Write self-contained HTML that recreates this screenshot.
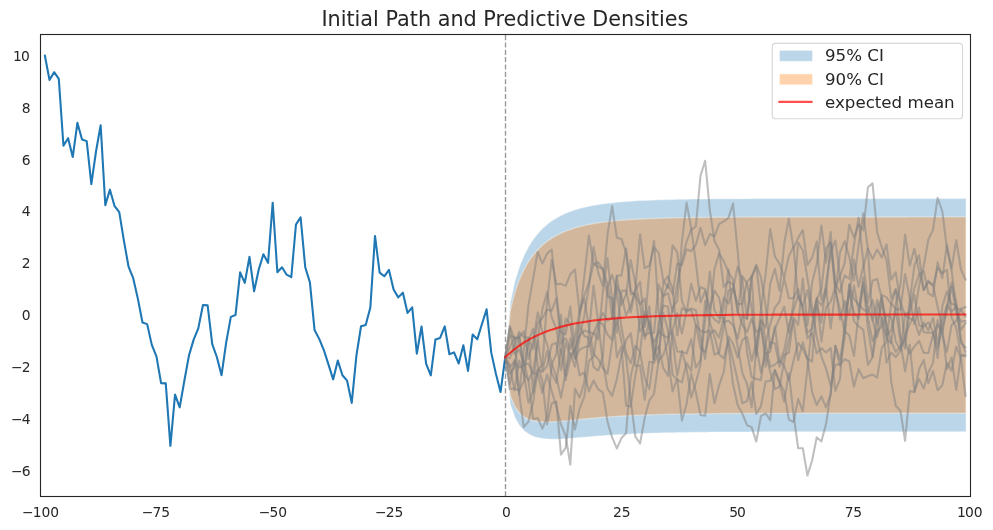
<!DOCTYPE html>
<html><head><meta charset="utf-8"><title>Initial Path and Predictive Densities</title>
<style>
html,body{margin:0;padding:0;background:#fff;}
body{width:993px;height:530px;overflow:hidden;}
svg{display:block;}
text{font-family:"DejaVu Sans","Liberation Sans",sans-serif;fill:#262626;}
.tk{font-size:13.89px;}
.lg{font-size:16.67px;}
</style></head><body>
<svg width="993" height="530" viewBox="0 0 993 530">
<rect x="0" y="0" width="993" height="530" fill="#ffffff"/>
<defs><clipPath id="ax"><rect x="40.5" y="34.5" width="930.0" height="462.0"/></clipPath></defs>
<g clip-path="url(#ax)">
<polygon points="505.70,357.54 510.35,302.46 515.00,281.09 519.65,266.21 524.30,254.93 528.95,246.04 533.60,238.87 538.25,232.98 542.90,228.11 547.55,224.03 552.20,220.60 556.85,217.69 561.50,215.21 566.15,213.10 570.80,211.28 575.45,209.71 580.10,208.36 584.75,207.19 589.40,206.17 594.05,205.28 598.70,204.50 603.35,203.82 608.00,203.22 612.65,202.70 617.30,202.23 621.95,201.82 626.60,201.46 631.25,201.14 635.90,200.86 640.55,200.61 645.20,200.38 649.85,200.18 654.50,200.00 659.15,199.84 663.80,199.70 668.45,199.58 673.10,199.46 677.75,199.36 682.40,199.27 687.05,199.19 691.70,199.12 696.35,199.05 701.00,198.99 705.65,198.94 710.30,198.89 714.95,198.85 719.60,198.81 724.25,198.78 728.90,198.75 733.55,198.72 738.20,198.70 742.85,198.67 747.50,198.65 752.15,198.64 756.80,198.62 761.45,198.61 766.10,198.59 770.75,198.58 775.40,198.57 780.05,198.56 784.70,198.55 789.35,198.55 794.00,198.54 798.65,198.53 803.30,198.53 807.95,198.52 812.60,198.52 817.25,198.51 821.90,198.51 826.55,198.51 831.20,198.50 835.85,198.50 840.50,198.50 845.15,198.50 849.80,198.49 854.45,198.49 859.10,198.49 863.75,198.49 868.40,198.49 873.05,198.49 877.70,198.49 882.35,198.48 887.00,198.48 891.65,198.48 896.30,198.48 900.95,198.48 905.60,198.48 910.25,198.48 914.90,198.48 919.55,198.48 924.20,198.48 928.85,198.48 933.50,198.48 938.15,198.48 942.80,198.48 947.45,198.48 952.10,198.48 956.75,198.48 961.40,198.48 966.05,198.48 966.05,431.70 961.40,431.70 956.75,431.71 952.10,431.71 947.45,431.71 942.80,431.71 938.15,431.71 933.50,431.71 928.85,431.71 924.20,431.71 919.55,431.71 914.90,431.71 910.25,431.71 905.60,431.71 900.95,431.71 896.30,431.71 891.65,431.71 887.00,431.71 882.35,431.71 877.70,431.71 873.05,431.71 868.40,431.71 863.75,431.72 859.10,431.72 854.45,431.72 849.80,431.72 845.15,431.72 840.50,431.73 835.85,431.73 831.20,431.73 826.55,431.73 821.90,431.74 817.25,431.74 812.60,431.74 807.95,431.75 803.30,431.75 798.65,431.76 794.00,431.77 789.35,431.77 784.70,431.78 780.05,431.79 775.40,431.80 770.75,431.81 766.10,431.82 761.45,431.83 756.80,431.85 752.15,431.86 747.50,431.88 742.85,431.90 738.20,431.92 733.55,431.94 728.90,431.97 724.25,432.00 719.60,432.03 714.95,432.07 710.30,432.11 705.65,432.15 701.00,432.20 696.35,432.26 691.70,432.32 687.05,432.38 682.40,432.46 677.75,432.54 673.10,432.63 668.45,432.73 663.80,432.84 659.15,432.96 654.50,433.09 649.85,433.24 645.20,433.40 640.55,433.57 635.90,433.77 631.25,433.97 626.60,434.20 621.95,434.45 617.30,434.72 612.65,435.01 608.00,435.32 603.35,435.65 598.70,436.00 594.05,436.37 589.40,436.75 584.75,437.15 580.10,437.55 575.45,437.94 570.80,438.32 566.15,438.66 561.50,438.94 556.85,439.13 552.20,439.19 547.55,439.04 542.90,438.62 538.25,437.80 533.60,436.43 528.95,434.27 524.30,430.94 519.65,425.86 515.00,417.86 510.35,404.12 505.70,357.54" fill="#1f77b4" fill-opacity="0.3" stroke="#fff" stroke-opacity="0.3" stroke-width="1.39" stroke-linejoin="miter"/>
<polygon points="505.70,357.54 510.35,310.50 515.00,291.90 519.65,278.84 524.30,268.85 528.95,260.93 533.60,254.49 538.25,249.18 542.90,244.75 547.55,241.03 552.20,237.88 556.85,235.20 561.50,232.91 566.15,230.93 570.80,229.23 575.45,227.76 580.10,226.49 584.75,225.37 589.40,224.40 594.05,223.55 598.70,222.81 603.35,222.15 608.00,221.58 612.65,221.07 617.30,220.62 621.95,220.22 626.60,219.87 631.25,219.55 635.90,219.28 640.55,219.03 645.20,218.81 649.85,218.61 654.50,218.44 659.15,218.28 663.80,218.14 668.45,218.01 673.10,217.90 677.75,217.80 682.40,217.71 687.05,217.63 691.70,217.56 696.35,217.49 701.00,217.44 705.65,217.38 710.30,217.34 714.95,217.29 719.60,217.26 724.25,217.22 728.90,217.19 733.55,217.17 738.20,217.14 742.85,217.12 747.50,217.10 752.15,217.08 756.80,217.06 761.45,217.05 766.10,217.04 770.75,217.03 775.40,217.01 780.05,217.01 784.70,217.00 789.35,216.99 794.00,216.98 798.65,216.98 803.30,216.97 807.95,216.97 812.60,216.96 817.25,216.96 821.90,216.95 826.55,216.95 831.20,216.95 835.85,216.94 840.50,216.94 845.15,216.94 849.80,216.94 854.45,216.94 859.10,216.93 863.75,216.93 868.40,216.93 873.05,216.93 877.70,216.93 882.35,216.93 887.00,216.93 891.65,216.93 896.30,216.93 900.95,216.93 905.60,216.93 910.25,216.92 914.90,216.92 919.55,216.92 924.20,216.92 928.85,216.92 933.50,216.92 938.15,216.92 942.80,216.92 947.45,216.92 952.10,216.92 956.75,216.92 961.40,216.92 966.05,216.92 966.05,413.26 961.40,413.26 956.75,413.26 952.10,413.26 947.45,413.26 942.80,413.26 938.15,413.26 933.50,413.26 928.85,413.26 924.20,413.26 919.55,413.26 914.90,413.26 910.25,413.26 905.60,413.26 900.95,413.26 896.30,413.27 891.65,413.27 887.00,413.27 882.35,413.27 877.70,413.27 873.05,413.27 868.40,413.27 863.75,413.27 859.10,413.27 854.45,413.28 849.80,413.28 845.15,413.28 840.50,413.28 835.85,413.28 831.20,413.29 826.55,413.29 821.90,413.29 817.25,413.30 812.60,413.30 807.95,413.30 803.30,413.31 798.65,413.32 794.00,413.32 789.35,413.33 784.70,413.34 780.05,413.34 775.40,413.35 770.75,413.36 766.10,413.38 761.45,413.39 756.80,413.40 752.15,413.42 747.50,413.44 742.85,413.46 738.20,413.48 733.55,413.50 728.90,413.53 724.25,413.56 719.60,413.59 714.95,413.63 710.30,413.67 705.65,413.71 701.00,413.76 696.35,413.82 691.70,413.88 687.05,413.94 682.40,414.02 677.75,414.10 673.10,414.19 668.45,414.29 663.80,414.40 659.15,414.52 654.50,414.66 649.85,414.81 645.20,414.97 640.55,415.15 635.90,415.35 631.25,415.56 626.60,415.80 621.95,416.05 617.30,416.33 612.65,416.64 608.00,416.96 603.35,417.31 598.70,417.69 594.05,418.09 589.40,418.52 584.75,418.96 580.10,419.42 575.45,419.90 570.80,420.37 566.15,420.82 561.50,421.25 556.85,421.62 552.20,421.90 547.55,422.04 542.90,421.97 538.25,421.60 533.60,420.81 528.95,419.38 524.30,417.03 519.65,413.23 515.00,407.04 510.35,396.08 505.70,357.54" fill="#ff7f0e" fill-opacity="0.35" stroke="#fff" stroke-opacity="0.35" stroke-width="1.39" stroke-linejoin="miter"/>
<polyline points="44.85,55.50 49.50,79.87 54.15,72.17 58.80,78.90 63.45,145.79 68.10,138.18 72.75,157.02 77.40,122.85 82.05,139.47 86.70,141.11 91.35,184.13 96.00,151.52 100.65,125.25 105.30,205.15 109.95,189.67 114.60,206.20 119.25,212.12 123.90,240.57 128.55,266.70 133.20,278.16 137.85,298.64 142.50,322.52 147.15,324.11 151.80,344.88 156.45,356.33 161.10,383.16 165.75,383.37 170.40,445.81 175.05,394.59 179.70,407.34 184.35,380.77 189.00,355.35 193.65,339.62 198.30,328.39 202.95,305.02 207.60,305.19 212.25,344.16 216.90,357.24 221.55,375.19 226.20,342.35 230.85,316.87 235.50,315.08 240.15,272.32 244.80,282.83 249.45,256.83 254.10,291.25 258.75,269.57 263.40,254.22 268.05,262.85 272.70,202.69 277.35,272.22 282.00,267.23 286.65,274.69 291.30,277.16 295.95,224.58 300.60,217.27 305.25,267.26 309.90,282.38 314.55,329.94 319.20,338.87 323.85,350.05 328.50,364.66 333.15,379.38 337.80,360.58 342.45,375.28 347.10,380.67 351.75,402.90 356.40,355.61 361.05,326.22 365.70,325.02 370.35,307.55 375.00,235.98 379.65,272.63 384.30,276.26 388.95,269.92 393.60,289.47 398.25,297.36 402.90,292.66 407.55,312.92 412.20,307.34 416.85,353.69 421.50,326.50 426.15,363.95 430.80,375.38 435.45,339.44 440.10,337.91 444.75,326.40 449.40,354.27 454.05,352.35 458.70,363.52 463.35,345.24 468.00,370.87 472.65,334.59 477.30,339.30 481.95,323.95 486.60,309.36 491.25,352.64 495.90,373.66 500.55,392.04 505.20,357.29" fill="none" stroke="#1f77b4" stroke-width="2.08" stroke-linejoin="round" stroke-linecap="round"/>
<line x1="505.5" x2="505.5" y1="496.5" y2="34.5" stroke="#000" stroke-opacity="0.4" stroke-width="1.39" stroke-dasharray="5.14,2.22"/>
<polyline points="505.20,357.29 509.85,327.68 514.50,353.97 519.15,349.79 523.80,362.47 528.45,380.44 533.10,371.32 537.75,340.54 542.40,370.62 547.05,351.14 551.70,373.57 556.35,382.77 561.00,349.51 565.65,380.31 570.30,359.14 574.95,350.13 579.60,335.69 584.25,330.52 588.90,332.08 593.55,285.62 598.20,321.89 602.85,324.23 607.50,334.52 612.15,339.97 616.80,285.70 621.45,295.68 626.10,315.39 630.75,305.68 635.40,289.87 640.05,281.71 644.70,327.18 649.35,306.27 654.00,359.58 658.65,323.09 663.30,305.53 667.95,306.85 672.60,340.27 677.25,375.66 681.90,351.06 686.55,368.13 691.20,397.54 695.85,382.77 700.50,364.46 705.15,300.88 709.80,322.68 714.45,336.53 719.10,354.34 723.75,358.39 728.40,340.31 733.05,359.98 737.70,380.84 742.35,403.28 747.00,401.19 751.65,381.85 756.30,414.07 760.95,406.15 765.60,381.59 770.25,380.98 774.90,370.02 779.55,381.65 784.20,391.74 788.85,419.69 793.50,422.01 798.15,398.89 802.80,411.38 807.45,368.43 812.10,324.06 816.75,297.86 821.40,341.71 826.05,307.38 830.70,301.68 835.35,286.22 840.00,319.68 844.65,300.94 849.30,314.89 853.95,285.49 858.60,310.91 863.25,282.26 867.90,328.44 872.55,357.02 877.20,329.12 881.85,294.85 886.50,297.43 891.15,303.76 895.80,308.56 900.45,309.82 905.10,274.04 909.75,297.95 914.40,324.05 919.05,307.61 923.70,332.22 928.35,332.82 933.00,332.65 937.65,348.66 942.30,328.14 946.95,369.07 951.60,357.53 956.25,390.03 960.90,355.78 965.55,356.23" fill="none" stroke="#808080" stroke-opacity="0.5" stroke-width="2.08" stroke-linejoin="round" stroke-linecap="round"/>
<polyline points="505.20,357.29 509.85,326.04 514.50,338.91 519.15,337.73 523.80,331.17 528.45,358.83 533.10,342.29 537.75,312.34 542.40,332.19 547.05,343.97 551.70,363.07 556.35,377.28 561.00,397.76 565.65,372.27 570.30,353.37 574.95,366.64 579.60,336.74 584.25,315.90 588.90,286.20 593.55,247.00 598.20,272.71 602.85,286.11 607.50,234.36 612.15,206.02 616.80,237.72 621.45,238.89 626.10,252.83 630.75,294.33 635.40,293.64 640.05,331.45 644.70,324.05 649.35,271.34 654.00,240.73 658.65,311.66 663.30,332.12 667.95,359.42 672.60,391.38 677.25,378.67 681.90,420.62 686.55,404.19 691.20,373.64 695.85,392.21 700.50,415.09 705.15,415.63 709.80,373.93 714.45,403.26 719.10,385.32 723.75,371.96 728.40,336.41 733.05,343.79 737.70,357.58 742.35,340.03 747.00,336.80 751.65,361.00 756.30,342.47 760.95,320.59 765.60,327.60 770.25,283.42 774.90,268.76 779.55,290.91 784.20,243.77 788.85,218.55 793.50,248.20 798.15,237.87 802.80,230.11 807.45,264.88 812.10,257.48 816.75,241.59 821.40,300.00 826.05,288.19 830.70,328.38 835.35,291.01 840.00,309.59 844.65,331.49 849.30,335.30 853.95,356.04 858.60,313.73 863.25,277.21 867.90,317.79 872.55,341.31 877.20,331.78 881.85,326.28 886.50,315.28 891.15,317.30 895.80,341.52 900.45,350.05 905.10,335.38 909.75,323.84 914.40,315.77 919.05,285.73 923.70,265.95 928.35,239.53 933.00,229.78 937.65,197.89 942.30,211.23 946.95,248.68 951.60,270.01 956.25,308.42 960.90,309.70 965.55,316.67" fill="none" stroke="#808080" stroke-opacity="0.5" stroke-width="2.08" stroke-linejoin="round" stroke-linecap="round"/>
<polyline points="505.20,357.29 509.85,367.23 514.50,361.29 519.15,367.40 523.80,366.35 528.45,341.15 533.10,328.67 537.75,365.40 542.40,381.15 547.05,424.38 551.70,403.35 556.35,401.68 561.00,454.59 565.65,447.89 570.30,406.11 574.95,429.49 579.60,408.55 584.25,396.94 588.90,360.88 593.55,356.80 598.20,324.55 602.85,312.84 607.50,320.58 612.15,317.92 616.80,275.66 621.45,275.56 626.10,248.18 630.75,290.59 635.40,295.70 640.05,304.21 644.70,298.48 649.35,330.69 654.00,342.40 658.65,333.00 663.30,282.29 667.95,276.44 672.60,288.72 677.25,335.55 681.90,308.18 686.55,310.50 691.20,308.44 695.85,310.23 700.50,337.57 705.15,358.97 709.80,317.72 714.45,268.93 719.10,253.24 723.75,261.01 728.40,272.04 733.05,279.82 737.70,313.18 742.35,276.12 747.00,283.76 751.65,307.93 756.30,354.09 760.95,309.48 765.60,274.23 770.25,228.94 774.90,256.66 779.55,263.51 784.20,277.80 788.85,255.95 793.50,246.86 798.15,297.55 802.80,306.52 807.45,333.07 812.10,328.53 816.75,304.97 821.40,322.62 826.05,283.62 830.70,252.45 835.35,240.50 840.00,276.75 844.65,312.64 849.30,296.15 853.95,259.75 858.60,286.81 863.25,266.85 867.90,248.45 872.55,320.52 877.20,337.24 881.85,317.75 886.50,362.69 891.15,352.52 895.80,357.11 900.45,350.85 905.10,313.86 909.75,312.55 914.40,294.86 919.05,325.38 923.70,326.71 928.35,322.36 933.00,331.37 937.65,358.05 942.30,306.37 946.95,291.35 951.60,304.04 956.25,304.78 960.90,343.00 965.55,347.50" fill="none" stroke="#808080" stroke-opacity="0.5" stroke-width="2.08" stroke-linejoin="round" stroke-linecap="round"/>
<polyline points="505.20,357.29 509.85,365.44 514.50,390.41 519.15,360.61 523.80,372.81 528.45,402.70 533.10,391.37 537.75,369.73 542.40,371.75 547.05,366.19 551.70,344.69 556.35,342.65 561.00,370.14 565.65,342.78 570.30,355.43 574.95,349.27 579.60,375.28 584.25,372.26 588.90,391.37 593.55,380.49 598.20,389.30 602.85,392.26 607.50,421.67 612.15,437.40 616.80,448.46 621.45,438.09 626.10,432.93 630.75,375.74 635.40,356.64 640.05,317.45 644.70,335.90 649.35,332.69 654.00,332.78 658.65,284.41 663.30,296.37 667.95,284.43 672.60,294.15 677.25,263.70 681.90,264.82 686.55,249.35 691.20,251.22 695.85,244.80 700.50,227.73 705.15,245.20 709.80,234.03 714.45,236.41 719.10,224.16 723.75,221.44 728.40,218.14 733.05,203.53 737.70,251.29 742.35,306.66 747.00,351.73 751.65,377.25 756.30,378.97 760.95,379.97 765.60,343.61 770.25,324.21 774.90,307.64 779.55,301.57 784.20,278.16 788.85,298.28 793.50,298.15 798.15,288.87 802.80,311.41 807.45,338.52 812.10,332.72 816.75,353.43 821.40,348.11 826.05,352.44 830.70,347.96 835.35,390.82 840.00,379.19 844.65,320.54 849.30,290.70 853.95,312.62 858.60,318.77 863.25,286.11 867.90,307.56 872.55,320.75 877.20,299.86 881.85,319.49 886.50,338.82 891.15,343.43 895.80,303.39 900.45,284.59 905.10,234.49 909.75,265.72 914.40,248.63 919.05,271.38 923.70,290.20 928.35,280.62 933.00,285.40 937.65,267.90 942.30,273.14 946.95,269.78 951.60,317.79 956.25,327.86 960.90,355.26 965.55,354.57" fill="none" stroke="#808080" stroke-opacity="0.5" stroke-width="2.08" stroke-linejoin="round" stroke-linecap="round"/>
<polyline points="505.20,357.29 509.85,336.01 514.50,337.20 519.15,394.51 523.80,350.37 528.45,305.12 533.10,278.77 537.75,251.93 542.40,263.58 547.05,253.63 551.70,249.61 556.35,293.89 561.00,332.64 565.65,334.47 570.30,306.52 574.95,348.83 579.60,318.07 584.25,276.51 588.90,235.45 593.55,263.77 598.20,266.86 602.85,269.00 607.50,283.96 612.15,316.75 616.80,276.58 621.45,305.19 626.10,294.43 630.75,260.14 635.40,283.40 640.05,304.48 644.70,338.91 649.35,321.25 654.00,346.51 658.65,362.41 663.30,296.16 667.95,293.01 672.60,312.03 677.25,284.16 681.90,261.22 686.55,241.55 691.20,229.90 695.85,226.22 700.50,175.81 705.15,160.76 709.80,209.91 714.45,240.92 719.10,249.79 723.75,286.84 728.40,281.68 733.05,284.12 737.70,310.57 742.35,324.48 747.00,332.37 751.65,318.96 756.30,332.09 760.95,328.27 765.60,353.64 770.25,351.61 774.90,326.48 779.55,361.87 784.20,350.39 788.85,325.02 793.50,310.19 798.15,295.21 802.80,305.81 807.45,289.95 812.10,316.66 816.75,299.44 821.40,305.38 826.05,293.66 830.70,243.60 835.35,283.55 840.00,292.41 844.65,275.27 849.30,278.95 853.95,244.72 858.60,217.77 863.25,261.60 867.90,302.82 872.55,280.78 877.20,279.02 881.85,298.66 886.50,335.57 891.15,330.28 895.80,309.76 900.45,342.45 905.10,371.11 909.75,344.57 914.40,391.38 919.05,378.98 923.70,388.60 928.35,372.55 933.00,362.90 937.65,319.95 942.30,335.36 946.95,351.94 951.60,324.93 956.25,320.85 960.90,309.04 965.55,307.05" fill="none" stroke="#808080" stroke-opacity="0.5" stroke-width="2.08" stroke-linejoin="round" stroke-linecap="round"/>
<polyline points="505.20,357.29 509.85,358.19 514.50,345.38 519.15,331.85 523.80,337.09 528.45,337.66 533.10,349.22 537.75,322.85 542.40,318.25 547.05,309.55 551.70,310.81 556.35,298.07 561.00,343.70 565.65,338.21 570.30,348.86 574.95,336.22 579.60,311.10 584.25,298.28 588.90,327.05 593.55,353.73 598.20,359.14 602.85,367.97 607.50,373.82 612.15,342.01 616.80,318.18 621.45,341.73 626.10,357.37 630.75,400.44 635.40,436.78 640.05,443.45 644.70,417.99 649.35,400.49 654.00,393.98 658.65,360.30 663.30,354.97 667.95,340.99 672.60,307.50 677.25,300.93 681.90,241.77 686.55,202.57 691.20,228.19 695.85,262.50 700.50,302.26 705.15,290.80 709.80,312.97 714.45,319.39 719.10,322.87 723.75,307.09 728.40,269.42 733.05,319.60 737.70,347.02 742.35,372.94 747.00,383.98 751.65,407.26 756.30,346.20 760.95,372.56 765.60,353.13 770.25,372.04 774.90,388.97 779.55,386.79 784.20,361.54 788.85,339.33 793.50,319.42 798.15,360.30 802.80,342.22 807.45,359.65 812.10,391.86 816.75,405.11 821.40,396.34 826.05,407.51 830.70,394.06 835.35,345.58 840.00,359.61 844.65,331.80 849.30,284.03 853.95,321.09 858.60,326.26 863.25,329.66 867.90,364.98 872.55,356.95 877.20,308.15 881.85,297.37 886.50,323.44 891.15,381.23 895.80,405.73 900.45,410.76 905.10,440.84 909.75,391.02 914.40,392.20 919.05,369.43 923.70,360.01 928.35,383.05 933.00,371.09 937.65,390.22 942.30,385.26 946.95,362.97 951.60,370.68 956.25,346.45 960.90,358.41 965.55,396.23" fill="none" stroke="#808080" stroke-opacity="0.5" stroke-width="2.08" stroke-linejoin="round" stroke-linecap="round"/>
<polyline points="505.20,357.29 509.85,384.16 514.50,360.11 519.15,393.31 523.80,427.09 528.45,421.57 533.10,402.20 537.75,369.74 542.40,365.05 547.05,302.06 551.70,259.73 556.35,284.29 561.00,283.91 565.65,285.87 570.30,274.41 574.95,269.56 579.60,312.93 584.25,295.34 588.90,283.09 593.55,264.23 598.20,262.32 602.85,269.19 607.50,296.24 612.15,298.26 616.80,332.73 621.45,290.86 626.10,290.55 630.75,312.50 635.40,288.44 640.05,234.18 644.70,268.35 649.35,265.37 654.00,247.26 658.65,252.82 663.30,280.33 667.95,288.22 672.60,245.30 677.25,252.13 681.90,300.97 686.55,312.56 691.20,283.67 695.85,300.79 700.50,287.19 705.15,289.00 709.80,308.56 714.45,290.42 719.10,297.79 723.75,321.95 728.40,320.69 733.05,325.20 737.70,338.79 742.35,315.68 747.00,318.97 751.65,277.75 756.30,266.42 760.95,306.41 765.60,343.93 770.25,366.70 774.90,364.74 779.55,360.44 784.20,365.64 788.85,380.41 793.50,360.70 798.15,342.96 802.80,349.04 807.45,358.71 812.10,361.62 816.75,300.01 821.40,289.12 826.05,248.04 830.70,242.03 835.35,293.09 840.00,252.20 844.65,241.28 849.30,256.89 853.95,280.59 858.60,245.37 863.25,213.23 867.90,249.02 872.55,259.02 877.20,249.46 881.85,257.53 886.50,244.34 891.15,279.69 895.80,272.10 900.45,302.33 905.10,342.17 909.75,353.75 914.40,346.61 919.05,340.93 923.70,352.98 928.35,352.97 933.00,334.65 937.65,324.66 942.30,332.89 946.95,305.29 951.60,311.72 956.25,306.49 960.90,339.59 965.55,351.79" fill="none" stroke="#808080" stroke-opacity="0.5" stroke-width="2.08" stroke-linejoin="round" stroke-linecap="round"/>
<polyline points="505.20,357.29 509.85,347.13 514.50,338.07 519.15,336.91 523.80,373.46 528.45,380.35 533.10,418.90 537.75,418.00 542.40,428.59 547.05,416.83 551.70,364.28 556.35,353.55 561.00,314.53 565.65,375.14 570.30,337.98 574.95,358.69 579.60,349.53 584.25,347.32 588.90,346.22 593.55,332.40 598.20,339.49 602.85,291.76 607.50,258.04 612.15,300.52 616.80,357.26 621.45,346.48 626.10,405.52 630.75,406.46 635.40,374.92 640.05,351.87 644.70,311.82 649.35,322.09 654.00,358.63 658.65,330.65 663.30,335.42 667.95,337.94 672.60,329.82 677.25,313.27 681.90,333.60 686.55,310.80 691.20,310.10 695.85,324.39 700.50,348.19 705.15,351.91 709.80,333.84 714.45,330.16 719.10,337.58 723.75,317.78 728.40,344.83 733.05,384.26 737.70,405.13 742.35,413.53 747.00,425.17 751.65,427.13 756.30,441.63 760.95,416.13 765.60,413.35 770.25,420.18 774.90,370.28 779.55,383.42 784.20,401.63 788.85,373.03 793.50,414.07 798.15,448.14 802.80,448.23 807.45,475.50 812.10,460.54 816.75,437.25 821.40,441.50 826.05,423.83 830.70,393.61 835.35,346.11 840.00,365.91 844.65,338.83 849.30,285.08 853.95,298.74 858.60,304.55 863.25,309.29 867.90,312.29 872.55,299.87 877.20,323.68 881.85,302.47 886.50,325.07 891.15,341.41 895.80,352.24 900.45,346.19 905.10,339.47 909.75,301.20 914.40,265.29 919.05,255.29 923.70,289.87 928.35,282.10 933.00,285.48 937.65,306.69 942.30,328.78 946.95,310.96 951.60,286.49 956.25,312.36 960.90,321.80 965.55,320.84" fill="none" stroke="#808080" stroke-opacity="0.5" stroke-width="2.08" stroke-linejoin="round" stroke-linecap="round"/>
<polyline points="505.20,357.29 509.85,373.63 514.50,367.47 519.15,334.57 523.80,364.62 528.45,363.58 533.10,373.22 537.75,373.45 542.40,392.69 547.05,374.62 551.70,390.99 556.35,406.57 561.00,424.62 565.65,435.83 570.30,464.58 574.95,388.60 579.60,397.77 584.25,382.67 588.90,331.60 593.55,333.85 598.20,321.54 602.85,362.65 607.50,388.51 612.15,395.89 616.80,379.30 621.45,354.34 626.10,340.12 630.75,333.16 635.40,366.19 640.05,365.33 644.70,399.72 649.35,361.70 654.00,362.83 658.65,352.63 663.30,313.09 667.95,330.56 672.60,374.84 677.25,379.82 681.90,382.38 686.55,362.92 691.20,370.87 695.85,324.77 700.50,330.94 705.15,332.23 709.80,330.26 714.45,354.73 719.10,352.35 723.75,326.23 728.40,290.95 733.05,288.55 737.70,304.11 742.35,304.03 747.00,281.84 751.65,276.98 756.30,264.60 760.95,277.35 765.60,305.83 770.25,347.81 774.90,328.81 779.55,318.20 784.20,306.68 788.85,333.03 793.50,302.23 798.15,242.54 802.80,250.28 807.45,278.22 812.10,307.08 816.75,337.07 821.40,356.36 826.05,368.56 830.70,386.06 835.35,364.83 840.00,364.10 844.65,359.26 849.30,361.55 853.95,386.62 858.60,369.17 863.25,378.29 867.90,376.10 872.55,374.69 877.20,377.58 881.85,347.64 886.50,341.87 891.15,303.66 895.80,289.92 900.45,302.47 905.10,315.20 909.75,318.29 914.40,320.49 919.05,334.94 923.70,322.33 928.35,330.40 933.00,317.71 937.65,343.47 942.30,320.04 946.95,305.75 951.60,282.23 956.25,303.04 960.90,329.97 965.55,323.10" fill="none" stroke="#808080" stroke-opacity="0.5" stroke-width="2.08" stroke-linejoin="round" stroke-linecap="round"/>
<polyline points="505.20,357.29 509.85,389.01 514.50,388.40 519.15,390.62 523.80,381.58 528.45,337.87 533.10,392.16 537.75,338.29 542.40,309.04 547.05,292.26 551.70,317.40 556.35,328.64 561.00,354.24 565.65,318.48 570.30,324.10 574.95,358.37 579.60,324.81 584.25,336.07 588.90,337.64 593.55,366.86 598.20,370.69 602.85,356.00 607.50,287.01 612.15,274.71 616.80,291.05 621.45,327.28 626.10,352.77 630.75,363.40 635.40,345.65 640.05,351.84 644.70,378.20 649.35,389.12 654.00,353.84 658.65,346.11 663.30,367.91 667.95,375.98 672.60,331.57 677.25,351.42 681.90,351.86 686.55,353.56 691.20,339.34 695.85,367.62 700.50,360.33 705.15,319.82 709.80,271.57 714.45,310.49 719.10,318.03 723.75,297.63 728.40,303.57 733.05,288.94 737.70,266.55 742.35,279.51 747.00,318.63 751.65,275.63 756.30,356.48 760.95,320.13 765.60,366.75 770.25,342.03 774.90,343.32 779.55,366.77 784.20,354.76 788.85,352.58 793.50,317.62 798.15,324.94 802.80,278.65 807.45,325.24 812.10,282.59 816.75,263.98 821.40,225.54 826.05,262.51 830.70,232.14 835.35,287.69 840.00,276.19 844.65,263.22 849.30,224.72 853.95,237.77 858.60,224.29 863.25,230.42 867.90,187.32 872.55,183.37 877.20,232.51 881.85,247.56 886.50,260.13 891.15,298.71 895.80,288.85 900.45,336.12 905.10,348.63 909.75,306.52 914.40,288.27 919.05,274.61 923.70,271.08 928.35,293.30 933.00,296.14 937.65,262.23 942.30,278.10 946.95,245.24 951.60,268.38 956.25,240.24 960.90,269.28 965.55,279.79" fill="none" stroke="#808080" stroke-opacity="0.5" stroke-width="2.08" stroke-linejoin="round" stroke-linecap="round"/>
<polyline points="505.20,357.29 509.85,353.04 514.50,349.22 519.15,345.78 523.80,342.69 528.45,339.90 533.10,337.40 537.75,335.14 542.40,333.11 547.05,331.28 551.70,329.64 556.35,328.16 561.00,326.83 565.65,325.63 570.30,324.55 574.95,323.58 579.60,322.71 584.25,321.92 588.90,321.21 593.55,320.57 598.20,320.00 602.85,319.48 607.50,319.02 612.15,318.60 616.80,318.23 621.45,317.89 626.10,317.58 630.75,317.31 635.40,317.06 640.05,316.84 644.70,316.64 649.35,316.46 654.00,316.30 658.65,316.15 663.30,316.02 667.95,315.90 672.60,315.78 677.25,315.66 681.90,315.56 686.55,315.47 691.20,315.38 695.85,315.30 700.50,315.22 705.15,315.15 709.80,315.09 714.45,315.03 719.10,314.98 723.75,314.92 728.40,314.88 733.05,314.83 737.70,314.79 742.35,314.77 747.00,314.75 751.65,314.73 756.30,314.71 760.95,314.70 765.60,314.69 770.25,314.67 774.90,314.66 779.55,314.65 784.20,314.65 788.85,314.64 793.50,314.63 798.15,314.63 802.80,314.62 807.45,314.62 812.10,314.61 816.75,314.61 821.40,314.60 826.05,314.60 830.70,314.60 835.35,314.59 840.00,314.59 844.65,314.59 849.30,314.59 853.95,314.59 858.60,314.58 863.25,314.58 867.90,314.58 872.55,314.58 877.20,314.58 881.85,314.58 886.50,314.58 891.15,314.58 895.80,314.58 900.45,314.58 905.10,314.57 909.75,314.57 914.40,314.57 919.05,314.57 923.70,314.57 928.35,314.57 933.00,314.57 937.65,314.57 942.30,314.57 946.95,314.57 951.60,314.57 956.25,314.57 960.90,314.57 965.55,314.57" fill="none" stroke="#ff0000" stroke-opacity="0.7" stroke-width="2.08" stroke-linejoin="round" stroke-linecap="round"/>
</g>
<rect x="40.5" y="34.5" width="930.0" height="462.0" fill="none" stroke="#262626" stroke-width="1.11"/>
<text x="504.85" y="25.6" text-anchor="middle" font-size="20.77">Initial Path and Predictive Densities</text>
<text class="tk" x="40.50" y="517" text-anchor="middle">−<tspan dx="-0.9">100</tspan></text>
<text class="tk" x="141.74" y="517">−<tspan dx="-0.9">7</tspan><tspan dx="-0.1">5</tspan></text>
<text class="tk" x="273.00" y="517" text-anchor="middle">−<tspan dx="-0.9">50</tspan></text>
<text class="tk" x="389.25" y="517" text-anchor="middle">−<tspan dx="-0.9">25</tspan></text>
<text class="tk" x="506.40" y="517" text-anchor="middle">0</text>
<text class="tk" x="621.75" y="517" text-anchor="middle">25</text>
<text class="tk" x="729.16" y="517">5<tspan dx="-0.9">0</tspan></text>
<text class="tk" x="844.86" y="517">7<tspan dx="-0.55">5</tspan></text>
<text class="tk" x="956.89" y="517">1<tspan dx="-0.75">0</tspan>0</text>
<text class="tk" x="30.55" y="475.74" text-anchor="end">−<tspan dx="-0.9">6</tspan></text>
<text class="tk" x="30.55" y="423.88" text-anchor="end">−<tspan dx="-0.9">4</tspan></text>
<text class="tk" x="30.55" y="372.01" text-anchor="end">−<tspan dx="-0.9">2</tspan></text>
<text class="tk" x="30.55" y="320.14" text-anchor="end">0</text>
<text class="tk" x="30.55" y="268.27" text-anchor="end">2</text>
<text class="tk" x="30.55" y="216.40" text-anchor="end">4</text>
<text class="tk" x="30.55" y="164.54" text-anchor="end">6</text>
<text class="tk" x="30.55" y="112.67" text-anchor="end">8</text>
<text class="tk" x="29.75" y="60.80" text-anchor="end">1<tspan dx="-0.8">0</tspan></text>
<rect x="772.3" y="43.4" width="190.2" height="75.3" rx="3.3" ry="3.3" fill="#ffffff" fill-opacity="0.8" stroke="#cccccc" stroke-opacity="0.8" stroke-width="1.11"/>
<rect x="779.5" y="50.4" width="33.0" height="10.9" fill="#1f77b4" fill-opacity="0.3" stroke="#fff" stroke-opacity="0.3" stroke-width="1.39"/>
<rect x="779.5" y="73.9" width="33.0" height="10.9" fill="#ff7f0e" fill-opacity="0.35" stroke="#fff" stroke-opacity="0.35" stroke-width="1.39"/>
<line x1="779.2" x2="811.8" y1="101.9" y2="101.9" stroke="#ff0000" stroke-opacity="0.7" stroke-width="2.08" stroke-linecap="round"/>
<text class="lg" x="825.0" y="61.3">95% CI</text>
<text class="lg" x="825.0" y="85.1">90% CI</text>
<text class="lg" x="825.0" y="107.6">expected mean</text>
</svg></body></html>
